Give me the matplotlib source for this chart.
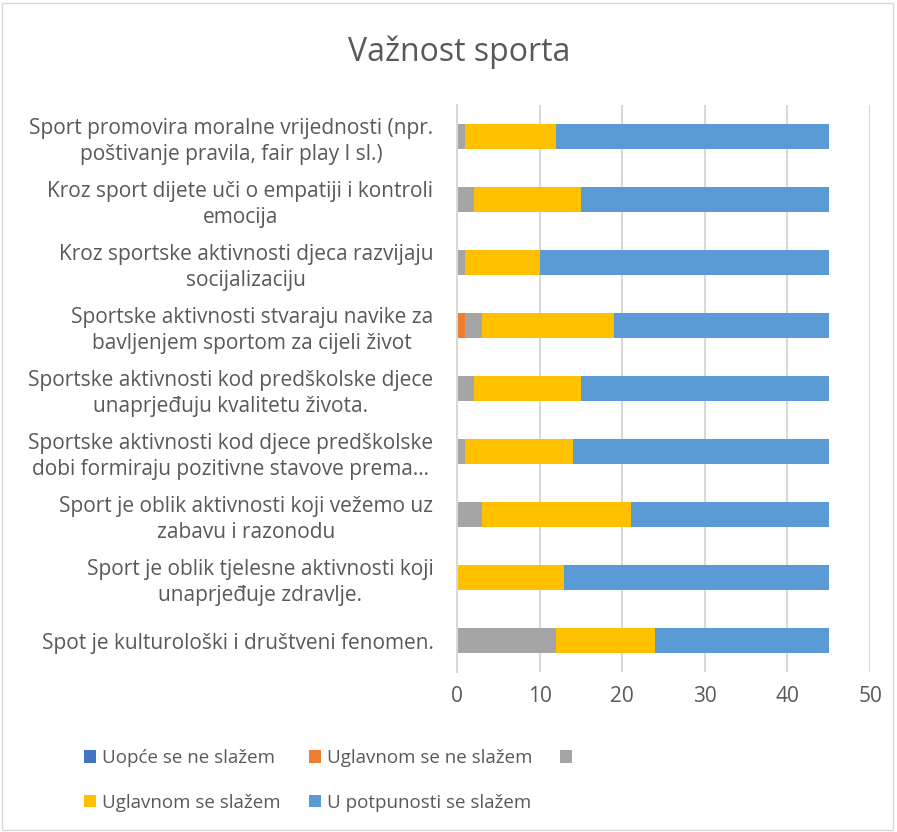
import matplotlib.pyplot as plt
from matplotlib.patches import Patch, Rectangle

# categories, top to bottom as in the chart
categories = [
    "Sport promovira moralne vrijednosti (npr.\npoštivanje pravila, fair play I sl.)",
    "Kroz sport dijete uči o empatiji i kontroli\nemocija",
    "Kroz sportske aktivnosti djeca razvijaju\nsocijalizaciju",
    "Sportske aktivnosti stvaraju navike za\nbavljenjem sportom za cijeli život",
    "Sportske aktivnosti kod predškolske djece\nunaprjeđuju kvalitetu života.",
    "Sportske aktivnosti kod djece predškolske\ndobi formiraju pozitivne stavove prema…",
    "Sport je oblik aktivnosti koji vežemo uz\nzabavu i razonodu",
    "Sport je oblik tjelesne aktivnosti koji\nunaprjeđuje zdravlje.",
    "Spot je kulturološki i društveni fenomen.",
]

series_names = ["Uopće se ne slažem", "Uglavnom se ne slažem", "",
                "Uglavnom se slažem", "U potpunosti se slažem"]
uopce = [0, 0, 0, 0, 0, 0, 0, 0, 0]
uglavnom_ne = [0, 0, 0, 1, 0, 0, 0, 0, 0]
neutral = [1, 2, 1, 2, 2, 1, 3, 0, 12]
uglavnom_da = [11, 13, 9, 16, 13, 13, 18, 13, 12]
potpuno = [33, 30, 35, 26, 30, 31, 24, 32, 21]
x_ticks = [0, 10, 20, 30, 40, 50]

colors = ["#4472C4", "#ED7D31", "#A5A5A5", "#FFC000", "#5B9BD5"]
text_col = "#595959"
font = "Open Sans"
fs = 15

fig = plt.figure(figsize=(8.97, 8.32), dpi=100)
ax = fig.add_axes([0.5095, 0.192, 0.4605, 0.682])

ypos = list(range(len(categories)))[::-1]
left = [0] * len(categories)
handles = []
for vals, name, col in zip([uopce, uglavnom_ne, neutral, uglavnom_da, potpuno],
                           series_names, colors):
    ax.barh(ypos, vals, left=left, height=0.4, color=col, zorder=3)
    left = [a + b for a, b in zip(left, vals)]
    handles.append(Patch(facecolor=col))

ax.set_xlim(0, 50)
ax.set_ylim(-0.5, 8.5)
ax.set_xticks(x_ticks)
ax.set_xticklabels([str(t) for t in x_ticks], fontsize=fs, color=text_col, family=font)
ax.set_yticks(ypos)
ax.set_yticklabels(categories, fontsize=fs, color=text_col, family=font,
                   multialignment="center", linespacing=1.3)
ax.tick_params(length=0, pad=17)
ax.tick_params(axis="x", pad=10)
ax.grid(axis="x", color="#D9D9D9", linewidth=1.5, zorder=0)
for s in ["top", "right", "bottom"]:
    ax.spines[s].set_visible(False)
ax.spines["left"].set_color("#D9D9D9")
ax.spines["left"].set_linewidth(1.5)
ax.spines["left"].set_zorder(4)

fig.text(0.512, 0.937, "Važnost sporta", ha="center", va="center",
         fontsize=23, color=text_col, family=font)

# column-wise order so the rows read like the original legend
order = [0, 3, 1, 4, 2]
fig.legend([handles[i] for i in order], [series_names[i] for i in order],
           ncol=3, loc="center left", bbox_to_anchor=(0.075, 0.062),
           frameon=False, handlelength=0.65, handleheight=0.65,
           handletextpad=0.3, columnspacing=1.5, labelspacing=1.4,
           prop={"family": font, "size": 13.5}, labelcolor=text_col)

fig.patches.append(Rectangle((0.002, 0.002), 0.994, 0.994, transform=fig.transFigure,
                             fill=False, edgecolor="#D9D9D9", linewidth=1))

fig.savefig("out.png", dpi=100)
